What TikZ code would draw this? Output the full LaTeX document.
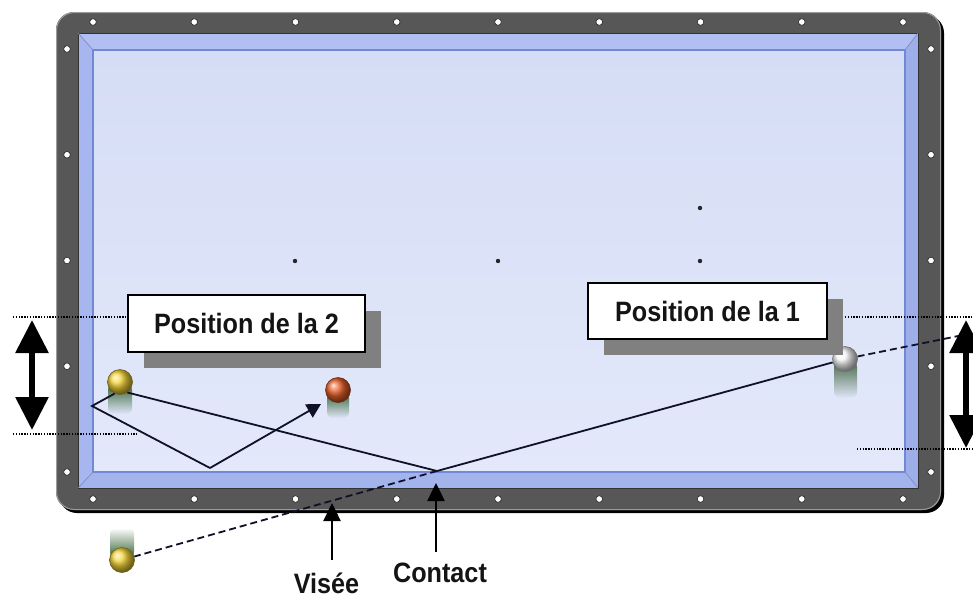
\documentclass[tikz,border=0pt]{standalone}
\usepackage{fontspec}
\setmainfont{Liberation Sans}
\newfontfamily\labelfont[FakeStretch=0.9]{Liberation Sans}
\usetikzlibrary{arrows.meta,shadows,fadings}

\definecolor{railgray}{HTML}{575757}
\definecolor{railedge}{HTML}{9A9A9A}
\definecolor{cushtop}{HTML}{B2BFF2}
\definecolor{cushleft}{HTML}{A7B6EF}
\definecolor{cushbot}{HTML}{A3B3EC}
\definecolor{cushright}{HTML}{9DAEE9}
\definecolor{clothtop}{HTML}{D5DDF6}
\definecolor{clothbot}{HTML}{E3E9FA}
\definecolor{clothedge}{HTML}{7088D6}
\definecolor{shadowgray}{HTML}{808080}
\definecolor{trackcol}{HTML}{101028}
\definecolor{yellowball}{HTML}{F4D43A}
\definecolor{redball}{HTML}{E8602A}
\definecolor{whiteball}{HTML}{F6F6F6}
\definecolor{smeargreen}{HTML}{2A5A28}

\tikzfading[name=smeardown, top color=transparent!5, bottom color=transparent!100]
\tikzfading[name=smearup, top color=transparent!100, bottom color=transparent!5]

\begin{document}
\begin{tikzpicture}[x=1pt,y=-1pt,
  labelbox/.style={draw=black, line width=1.6pt, fill=white, inner sep=0pt,
    font=\labelfont\fontsize{28}{30}\selectfont\bfseries, text=black!92,
    drop shadow={shadow xshift=16pt, shadow yshift=-16pt, fill=shadowgray, opacity=1}},
  callout/.style={font=\labelfont\fontsize{28}{30}\selectfont\bfseries, text=black!92,
    inner sep=0pt, anchor=base},
  billiard/.style={circle, minimum size=25pt, inner sep=0pt, ball color=#1,
    draw=#1!45!black, line width=0.6pt},
  track/.style={draw=trackcol, line width=1.8pt},
  aimline/.style={draw=trackcol, line width=1.8pt, dash pattern=on 7pt off 4pt},
  guide/.style={draw=black, line width=1.3pt, dash pattern=on 1.4pt off 1.4pt},
  dblarrow/.style={line width=6pt,
    arrows={Triangle[length=33pt 0 0,width=32pt 0 0]-Triangle[length=33pt 0 0,width=32pt 0 0]}},
  pointer/.style={line width=2.5pt, arrows={-Triangle[length=18pt 0 0,width=17pt 0 0]}},
  rail mark/.style={fill=white, draw=black!85, line width=0.6pt},
]
\useasboundingbox (0,0) rectangle (973,597);
\fill[white] (0,0) rectangle (973,597);

% rail with its dark lower/right edge
\fill[black, rounded corners=18pt] (59,15) rectangle (944,513);
\fill[railgray, rounded corners=18pt] (56,12) rectangle (941,510);
\draw[railedge, line width=1pt, rounded corners=18pt] (56.5,12.5) rectangle (940.5,509.5);

% cushions, bevelled at the corners
\fill[cushtop]   (78,33) -- (918,33) -- (905,50) -- (93,50) -- cycle;
\fill[cushleft]  (78,33) -- (93,50) -- (93,472) -- (78,488) -- cycle;
\fill[cushbot]   (78,488) -- (918,488) -- (905,472) -- (93,472) -- cycle;
\fill[cushright] (918,33) -- (918,488) -- (905,472) -- (905,50) -- cycle;
\draw[black!80, line width=1pt] (78,33) rectangle (918,488);
\draw[cushright!80!black, line width=0.6pt] (78,33) -- (93,50) (918,33) -- (905,50)
  (78,488) -- (93,472) (918,488) -- (905,472);

% playing cloth
\shade[top color=clothtop, bottom color=clothbot] (93,50) rectangle (905,472);
\draw[clothedge, line width=2pt] (93,50) rectangle (905,472);

% diamonds on the rails
\foreach \i in {0,...,8} {
  \pgfmathsetmacro\xx{93+101.25*\i}
  \filldraw[rail mark] (\xx,22) circle (3.3pt);
  \filldraw[rail mark] (\xx,499) circle (3.3pt);
}
\foreach \j in {0,...,4} {
  \pgfmathsetmacro\yy{49+105.75*\j}
  \filldraw[rail mark] (67,\yy) circle (3.3pt);
  \filldraw[rail mark] (931,\yy) circle (3.3pt);
}

% spots on the cloth
\foreach \p in {(295,261),(498,261),(700,261),(700,208)}
  \fill[black!85] \p circle (2.2pt);

% motion smears behind the balls
\fill[smeargreen, path fading=smeardown, rounded corners=6pt] (108,384) rectangle (132,414);
\fill[smeargreen, path fading=smeardown, rounded corners=6pt] (327,392) rectangle (349,418);
\fill[smeargreen!75!gray, path fading=smeardown, rounded corners=6pt] (834,361) rectangle (857,398);
\fill[smeargreen, path fading=smearup, rounded corners=6pt] (110,528) rectangle (134,558);

% balls
\node[billiard=yellowball] (y2) at (120,382) {};
\node[billiard=redball] (r1) at (338,390) {};
\node[billiard=whiteball] (w1) at (845,359) {};
\node[billiard=yellowball] (ym) at (122,560) {};

% bounce points and ends of the tracks
\coordinate (b1) at (92,406);
\coordinate (b2) at (210,468);
\coordinate (tip2) at (321,404);
\coordinate (contact pt) at (437,471);
\coordinate (beyond) at (973,333);

% tracks
\draw[track] (y2.245) -- (b1) -- (b2);
\draw[track, arrows={-Triangle[length=14pt 0 0,width=15pt 0 0]}] (b2) -- (tip2);
\draw[track] (y2.305) -- (contact pt) -- (w1);
\draw[aimline] (contact pt) -- (ym);
\draw[aimline] (w1) -- (beyond);

% labels
\node[labelbox, minimum width=237pt, minimum height=57pt] (pos2) at (246.5,323.5) {Position de la 2};
\node[labelbox, minimum width=239pt, minimum height=56pt] (pos1) at (707.5,311) {Position de la 1};

% guide lines for the height ranges
\coordinate (g1a) at (13,317);  \coordinate (g1b) at (128,317);
\coordinate (g2a) at (13,434);  \coordinate (g2b) at (137,434);
\coordinate (g3a) at (845,317); \coordinate (g3b) at (973,317);
\coordinate (g4a) at (857,449); \coordinate (g4b) at (973,449);
\draw[guide] (g1a) -- (g1b);
\draw[guide] (g2a) -- (g2b);
\draw[guide] (g3a) -- (g3b);
\draw[guide] (g4a) -- (g4b);

% height ranges
\coordinate (la) at (32,320);  \coordinate (lb) at (32,430);
\coordinate (ra) at (966,320); \coordinate (rb) at (966,448);
\draw[dblarrow] (la) -- (lb);
\draw[dblarrow] (ra) -- (rb);

% aiming point and contact point
\node[callout] (visee) at (326.5,593) {Visée};
\node[callout] (contact) at (440,582) {Contact};
\coordinate (vtail) at (332,560); \coordinate (vtip) at (332,503);
\coordinate (ctail) at (436,552); \coordinate (ctip) at (436,483);
\draw[pointer] (vtail) -- (vtip);
\draw[pointer] (ctail) -- (ctip);
\end{tikzpicture}
\end{document}
